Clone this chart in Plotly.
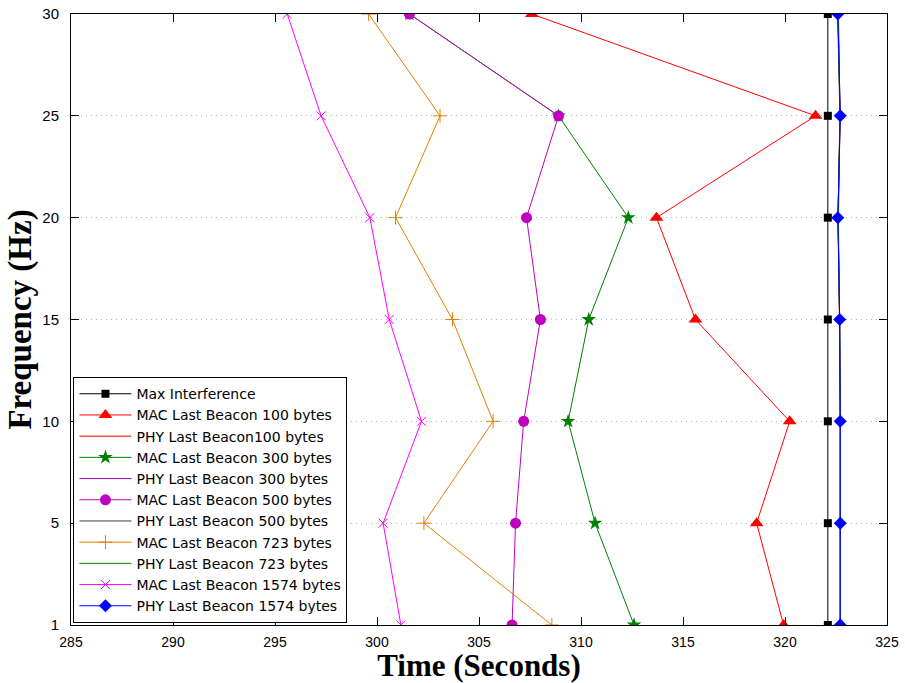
import plotly.graph_objects as go

# Frequencies (Hz), drawn from top (30) to bottom (1)
freq = ["30", "25", "20", "15", "10", "5", "1"]
freq_ticks = ["1", "5", "10", "15", "20", "25", "30"]

# Times (seconds) for each series, same order as freq
max_interference = [322.10, 322.10, 322.10, 322.10, 322.10, 322.10, 322.10]
mac_100 = [307.59, 321.50, 313.70, 315.61, 320.23, 318.61, 319.93]
phy_100 = [322.62, 322.70, 322.62, 322.68, 322.71, 322.71, 322.71]
mac_300 = [301.59, 308.90, 312.32, 310.38, 309.37, 310.69, 312.60]
phy_300 = [322.60, 322.70, 322.60, 322.68, 322.71, 322.71, 322.71]
mac_500 = [301.59, 308.90, 307.33, 308.01, 307.19, 306.79, 306.62]
phy_500 = [322.58, 322.69, 322.60, 322.68, 322.71, 322.71, 322.71]
mac_723 = [299.59, 303.09, 300.91, 303.70, 305.69, 302.30, 308.57]
phy_723 = [322.60, 322.70, 322.60, 322.68, 322.71, 322.71, 322.71]
mac_1574 = [295.60, 297.26, 299.65, 300.60, 302.18, 300.30, 301.17]
phy_1574 = [322.59, 322.71, 322.59, 322.68, 322.71, 322.71, 322.71]

series = [
    ("Max Interference", max_interference, "#000000", "square", 8, None),
    ("MAC Last Beacon 100 bytes", mac_100, "#FF0000", "triangle-up", 12, None),
    ("PHY Last Beacon100 bytes", phy_100, "#FF0000", None, 0, None),
    ("MAC Last Beacon 300 bytes", mac_300, "#008000", "star", 11, None),
    ("PHY Last Beacon 300 bytes", phy_300, "#9900CC", None, 0, None),
    ("MAC Last Beacon 500 bytes", mac_500, "#BF00BF", "circle", 11, None),
    ("PHY Last Beacon 500 bytes", phy_500, "#404040", None, 0, None),
    ("MAC Last Beacon 723 bytes", mac_723, "#E07F00", "cross-thin-open", 10, 1),
    ("PHY Last Beacon 723 bytes", phy_723, "#008000", None, 0, None),
    ("MAC Last Beacon 1574 bytes", mac_1574, "#FF00FF", "x-thin-open", 9, 1),
    ("PHY Last Beacon 1574 bytes", phy_1574, "#0000FF", "diamond", 10, None),
]

fig = go.Figure()
for name, xs, color, symbol, msize, mlw in series:
    if symbol is None:
        fig.add_trace(go.Scatter(x=xs, y=freq, name=name, mode="lines",
                                 line=dict(color=color, width=1)))
    else:
        marker = dict(symbol=symbol, size=msize, color=color)
        if mlw:
            marker["line"] = dict(color=color, width=mlw)
        else:
            marker["line"] = dict(width=0)
        fig.add_trace(go.Scatter(x=xs, y=freq, name=name, mode="lines+markers",
                                 line=dict(color=color, width=1), marker=marker))

fig.update_layout(
    width=905, height=683,
    margin=dict(l=71, r=18, t=14, b=58, autoexpand=False),
    paper_bgcolor="white", plot_bgcolor="white",
    font=dict(family="Liberation Sans, Arial, sans-serif", size=15, color="black"),
    showlegend=True,
    legend=dict(x=0.003, y=0.003, xanchor="left", yanchor="bottom",
                bgcolor="white", bordercolor="black", borderwidth=1,
                font=dict(family="DejaVu Sans, sans-serif", size=14, color="black"),
                itemwidth=52, tracegroupgap=0),
)
fig.update_xaxes(
    range=[285, 325], tickvals=[285, 290, 295, 300, 305, 310, 315, 320, 325],
    showgrid=False, zeroline=False, automargin=False,
    showline=True, linecolor="black", linewidth=1, mirror="ticks",
    ticks="inside", ticklen=8, tickcolor="black",
    tickfont=dict(size=14), ticklabelstandoff=4,
    title=dict(text="<b>Time (Seconds)</b>",
               font=dict(family="Liberation Serif, Times New Roman, serif", size=31),
               standoff=6),
)
fig.update_yaxes(
    type="category", categoryorder="array", categoryarray=freq_ticks,
    range=[0, 6], automargin=False,
    showgrid=True, gridcolor="#b0b0b0", griddash="1px,4px", gridwidth=1,
    zeroline=False,
    showline=True, linecolor="black", linewidth=1, mirror="ticks",
    ticks="inside", ticklen=8, tickcolor="black",
    tickfont=dict(size=15), ticklabelstandoff=8,
    title=dict(text="<b>Frequency (Hz)</b>",
               font=dict(family="Liberation Serif, Times New Roman, serif", size=33),
               standoff=0),
)

# remove the default 8px page margin so the figure fills the window exactly
fig.write_html("out.html", config={"displayModeBar": False},
               post_script="document.body.style.margin='0';")
